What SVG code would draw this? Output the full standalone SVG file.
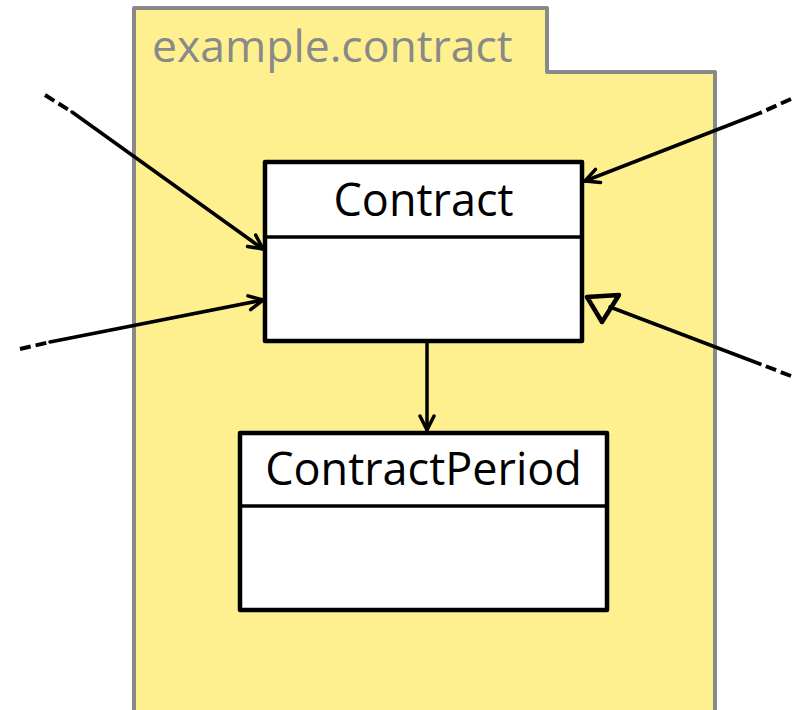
<svg xmlns="http://www.w3.org/2000/svg" width="800" height="710" viewBox="0 0 800 710">
  <style>
    .pkg { fill: #fff08f; stroke: #898989; stroke-width: 4; stroke-linejoin: round; }
    .pkgname { font-family: "Open Sans", "Noto Sans", sans-serif; font-size: 44.5px; fill: #898989; }
    .box { fill: #ffffff; stroke: #000; stroke-width: 4.5; stroke-linejoin: round; }
    .div { stroke: #000; stroke-width: 3.5; }
    .cls { font-family: "Open Sans", "Noto Sans", sans-serif; font-size: 45px; fill: #000; text-anchor: middle; }
    .edge { fill: none; stroke: #000; stroke-width: 3.5; stroke-linecap: round; stroke-linejoin: round; }
    .dash { fill: none; stroke: #000; stroke-width: 4; stroke-dasharray: 11 5; }
  </style>
  <defs>
    <marker id="open" viewBox="0 0 20 20" refX="18" refY="10" markerWidth="20" markerHeight="20" markerUnits="userSpaceOnUse" orient="auto">
      <path d="M4 3 L18 10 L4 17" fill="none" stroke="#000" stroke-width="3.5" stroke-linecap="round" stroke-linejoin="round"/>
    </marker>
  </defs>

  <g id="package">
    <path class="pkg" d="M134 8 H547 V72 H715 V712 H134 Z"/>
    <text class="pkgname" x="152" y="62">example.contract</text>
  </g>

  <g id="connectors">
    <line class="dash" x1="45" y1="95" x2="72" y2="112"/>
    <line class="edge" x1="72" y1="112" x2="263" y2="249" marker-end="url(#open)"/>
    <line class="dash" x1="20" y1="349" x2="50" y2="342"/>
    <line class="edge" x1="50" y1="342" x2="263" y2="300" marker-end="url(#open)"/>
    <line class="dash" x1="791" y1="99" x2="760" y2="113"/>
    <line class="edge" x1="760" y1="113" x2="585" y2="181" marker-end="url(#open)"/>
    <line class="dash" x1="791" y1="376" x2="760" y2="364"/>
    <line class="edge" x1="760" y1="364" x2="610" y2="307"/>
    <polygon points="587,297 619,295 602,322" fill="none" stroke="#000" stroke-width="4.5" stroke-linejoin="round"/>
    <line class="edge" x1="427" y1="343" x2="427" y2="430" marker-end="url(#open)"/>
  </g>

  <g id="Contract">
    <rect class="box" x="265" y="162" width="317" height="179"/>
    <line class="div" x1="265" y1="237" x2="582" y2="237"/>
    <text class="cls" x="423.5" y="216">Contract</text>
  </g>

  <g id="ContractPeriod">
    <rect class="box" x="240" y="433" width="367" height="177"/>
    <line class="div" x1="240" y1="506" x2="607" y2="506"/>
    <text class="cls" x="423.5" y="485">ContractPeriod</text>
  </g>
</svg>
